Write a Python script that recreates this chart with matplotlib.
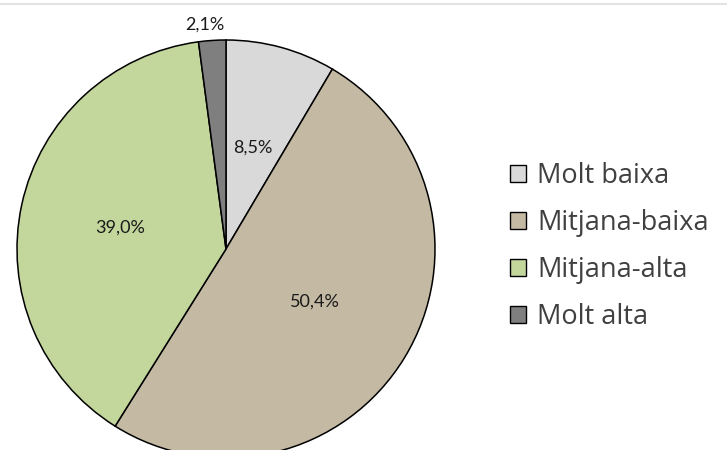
import matplotlib.pyplot as plt
from matplotlib.patches import Patch
from matplotlib.lines import Line2D

# Distribució per categories (%)
categories = ['Molt baixa', 'Mitjana-baixa', 'Mitjana-alta', 'Molt alta']
values = [8.5, 50.4, 39.0, 2.1]
colors = ['#D9D9D9', '#C4B9A3', '#C3D69B', '#7F7F7F']

# posicions de les etiquetes (coordenades de la figura en píxels)
label_pos = [(253, 302), (315, 148), (120, 222), (205, 425)]

plt.rcParams['font.family'] = ['Lato', 'DejaVu Sans']

fig = plt.figure(figsize=(7.27, 4.5), dpi=100)
fig.patch.set_facecolor('white')
ax = fig.add_axes([0, 0, 1, 1])

wedges, texts = ax.pie(values, colors=colors, startangle=90, counterclock=False,
                       center=(226, 201), radius=209,
                       wedgeprops=dict(edgecolor='black', linewidth=1.1))
ax.set_xlim(0, 727)
ax.set_ylim(0, 450)
ax.set_aspect('equal')
ax.axis('off')

for v, (x, y) in zip(values, label_pos):
    ax.text(x, y, f'{v:.1f}%'.replace('.', ','), ha='center', va='center',
            fontsize=13, color='#1a1a1a')

# línia fina superior
fig.add_artist(Line2D([0, 1], [0.992, 0.992], color='#dddddd', lw=1.2))

handles = [Patch(facecolor=c, edgecolor='black', linewidth=1.0) for c in colors]
leg = fig.legend(handles, categories, loc='center left', bbox_to_anchor=(0.668, 0.452),
                 frameon=False, labelcolor='#404040',
                 prop=dict(family=['Open Sans', 'DejaVu Sans'], size=19.5),
                 handlelength=0.6, handleheight=0.6, handletextpad=0.4,
                 labelspacing=0.7)

fig.savefig('out.png', dpi=100)
